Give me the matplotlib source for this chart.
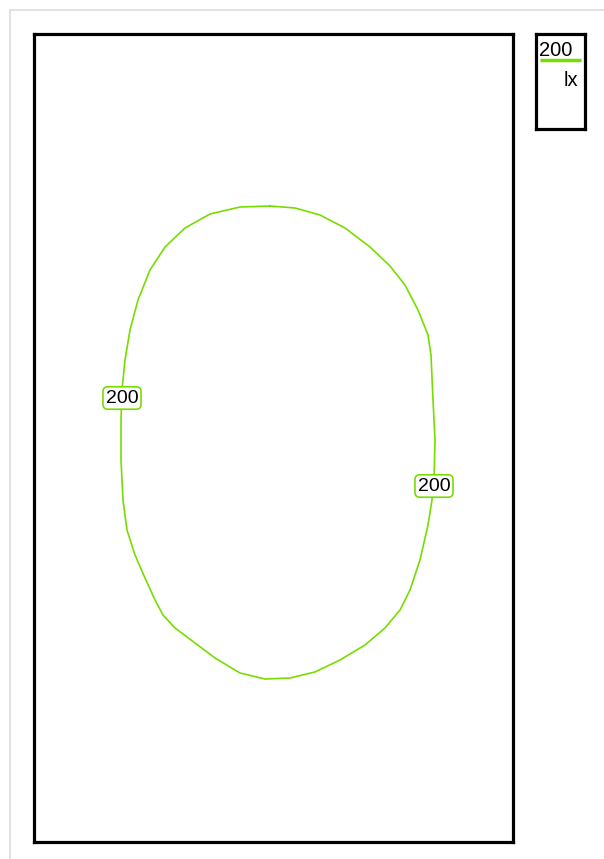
import matplotlib
matplotlib.use("Agg")
import matplotlib.pyplot as plt
from matplotlib.lines import Line2D

# contour trace (box units: x from left edge, y from bottom edge)
contour_x = [236, 261, 286, 311, 336, 356, 371, 384, 394, 397, 399, 401, 400,
             398, 394, 386, 376, 366, 351, 331, 306, 281, 256, 231, 206, 181,
             161, 141, 129, 121, 111, 101, 93, 89, 87, 87, 88, 91, 96, 104,
             116, 131, 151, 176, 206, 236]
contour_y = [636, 634, 627, 614, 595, 576, 557, 532, 507, 487, 442, 402, 362,
             342, 317, 282, 252, 232, 214, 197, 182, 170, 164, 163, 169, 184,
             199, 214, 227, 242, 264, 287, 312, 342, 382, 422, 452, 482, 512,
             542, 572, 595, 614, 628, 635, 636]
level = "200"
unit = "lx"
label_pos = [(88, 444), (400, 356)]

GREEN = "#77dd00"

fig = plt.figure(figsize=(6.04, 8.59), dpi=100)
W, H = 604, 859

# light frame
fig.add_artist(Line2D([10 / W, 10 / W], [0, 1 - 10 / H], color="#dddddd", lw=1.2))
fig.add_artist(Line2D([10 / W, 1], [1 - 10 / H, 1 - 10 / H], color="#dddddd", lw=1.2))

ax = fig.add_axes([34 / W, 1 - 842 / H, 479 / W, 808 / H])
ax.set_xlim(0, 479)
ax.set_ylim(0, 808)
ax.set_xticks([])
ax.set_yticks([])
for s in ax.spines.values():
    s.set_linewidth(2.3)
    s.set_color("black")

ax.plot(contour_x, contour_y, color=GREEN, lw=1.2)
for lx, ly in label_pos:
    ax.text(lx, ly, level, ha="center", va="center", fontsize=14,
            family="Liberation Sans",
            bbox=dict(boxstyle="round,pad=0.14,rounding_size=0.25",
                      fc="white", ec=GREEN, lw=1.2))

# legend box
lg = fig.add_axes([536 / W, 1 - 129 / H, 49 / W, 95 / H])
lg.set_xlim(0, 49)
lg.set_ylim(0, 95)
lg.set_xticks([])
lg.set_yticks([])
for s in lg.spines.values():
    s.set_linewidth(2.3)
    s.set_color("black")
lg.text(3, 78, level, ha="left", va="center", fontsize=14.5, family="Liberation Sans")
lg.plot([4, 45], [69, 69], color=GREEN, lw=2.5, solid_capstyle="butt")
lg.text(42, 48, unit, ha="right", va="center", fontsize=14.5, family="Liberation Sans")

fig.savefig("out.png", dpi=100)
